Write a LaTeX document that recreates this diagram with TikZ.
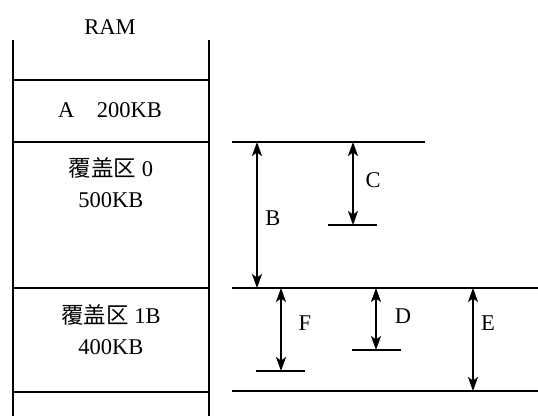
\documentclass[tikz,border=0pt]{standalone}
\usepackage{fontspec}
\setmainfont{Liberation Serif}
\newfontfamily\cjk{Noto Sans CJK SC}
\usetikzlibrary{arrows.meta}
\begin{document}
\begin{tikzpicture}[x=1pt,y=-1pt,
  ln/.style={line width=1.6pt},
  dim/.style={line width=1.6pt,{Stealth[length=14pt,width=10pt,inset=3.5pt]}-{Stealth[length=14pt,width=10pt,inset=3.5pt]}},
  lbl/.style={font=\fontsize{22.5}{26}\selectfont, inner sep=0pt, align=center}]
\useasboundingbox (0,0) rectangle (538,416);
% memory column
\draw[ln] (13,40) -- (13,416);
\draw[ln] (209,40) -- (209,416);
\draw[ln] (13,80) -- (209,80);
\draw[ln] (13,142) -- (209,142);
\draw[ln] (13,288) -- (209,288);
\draw[ln] (13,392) -- (209,392);
\node[lbl] (ram) at (110,27) {RAM};
\node[lbl] (a) at (110,110) {A\hspace{1em}200KB};
\node[lbl] (o0) at (111,168) {{\cjk 覆盖区} 0};
\node[lbl] (o0s) at (111,200) {500KB};
\node[lbl] (o1) at (111,315) {{\cjk 覆盖区} 1B};
\node[lbl] (o1s) at (111,347) {400KB};
% reference lines
\coordinate (t1) at (232,142); \coordinate (t2) at (425,142);
\coordinate (m1) at (232,288); \coordinate (m2) at (538,288);
\coordinate (b1) at (232,391); \coordinate (b2) at (538,391);
\coordinate (c1) at (328,225); \coordinate (c2) at (377,225);
\coordinate (f1) at (256,371); \coordinate (f2) at (305,371);
\coordinate (d1) at (352,350); \coordinate (d2) at (401,350);
\draw[ln] (t1) -- (t2);
\draw[ln] (m1) -- (m2);
\draw[ln] (b1) -- (b2);
\draw[ln] (c1) -- (c2);
\draw[ln] (f1) -- (f2);
\draw[ln] (d1) -- (d2);
% arrows
\coordinate (Bt) at (257,142); \coordinate (Bb) at (257,288);
\coordinate (Ct) at (353,142); \coordinate (Cb) at (353,225);
\coordinate (Ft) at (281,288); \coordinate (Fb) at (281,371);
\coordinate (Dt) at (376,288); \coordinate (Db) at (376,350);
\coordinate (Et) at (473,288); \coordinate (Eb) at (473,391);
\draw[dim] (Bt) -- (Bb);
\draw[dim] (Ct) -- (Cb);
\draw[dim] (Ft) -- (Fb);
\draw[dim] (Dt) -- (Db);
\draw[dim] (Et) -- (Eb);
\node[lbl] (B) at (273,218) {B};
\node[lbl] (C) at (373,180) {C};
\node[lbl] (F) at (305,323) {F};
\node[lbl] (D) at (403,316) {D};
\node[lbl] (E) at (488,323) {E};
\end{tikzpicture}
\end{document}
